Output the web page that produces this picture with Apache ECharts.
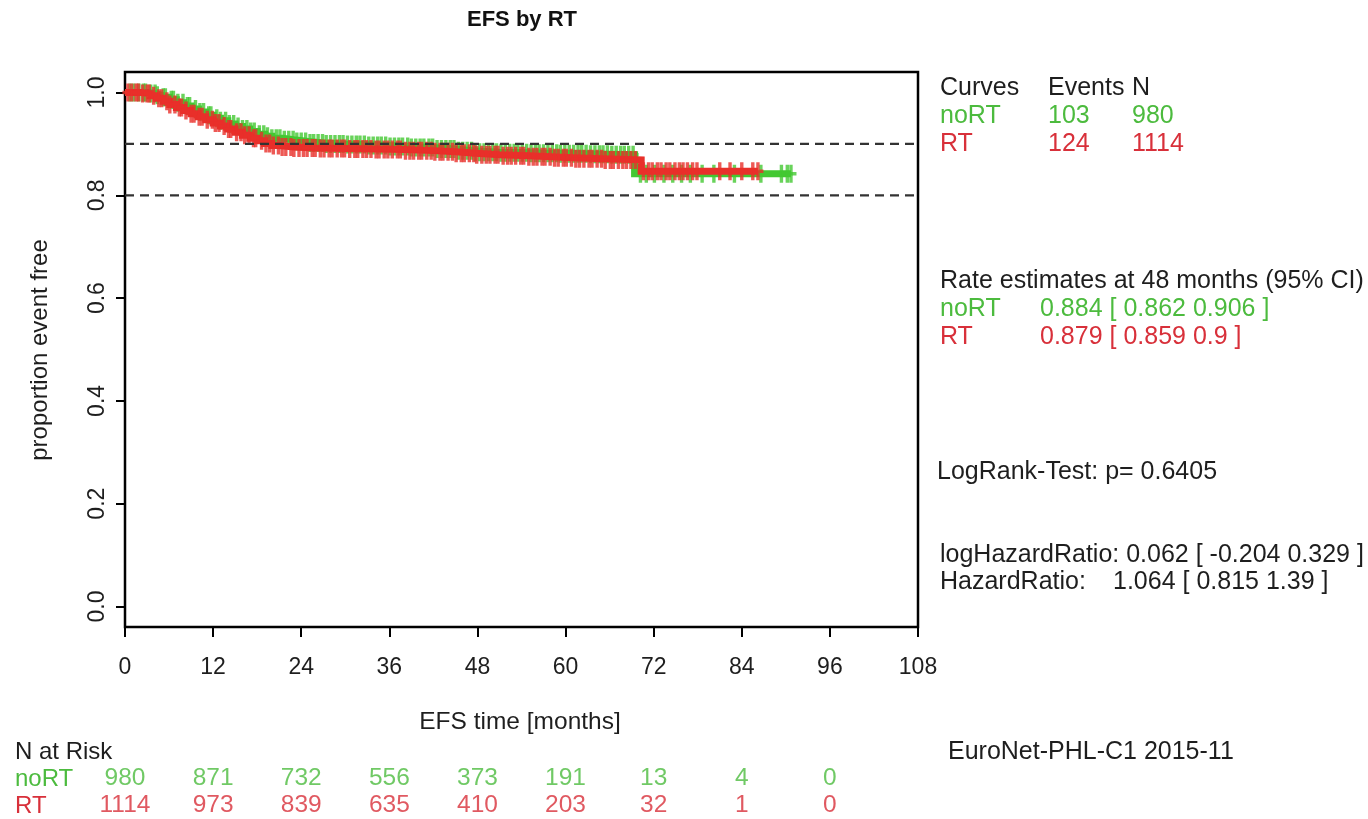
<!DOCTYPE html>
<html>
<head>
<meta charset="utf-8">
<script src="https://cdn.jsdelivr.net/npm/echarts@6/dist/echarts.min.js"></script>
<style>
  html, body { margin: 0; padding: 0; background: #ffffff; }
  #chart { width: 1368px; height: 819px; }
</style>
</head>
<body>
<div id="chart"></div>
<script>
// Kaplan-Meier curves of event-free survival, split by radiotherapy.
const xTicks = [0, 12, 24, 36, 48, 60, 72, 84, 96, 108];
const yTicks = [0, 0.2, 0.4, 0.6, 0.8, 1.0];
const refLevels = [0.9, 0.8];

// step points [month, proportion event free]
const noRTSteps = [[0,1],[3.2,0.998],[4.2,0.995],[5,0.991],[6,0.986],[7,0.980],[8,0.974],[9,0.968],
  [10,0.962],[11,0.956],[12,0.950],[13,0.945],[14,0.939],[15,0.934],[16,0.929],[17,0.924],[18,0.919],
  [19,0.915],[20,0.911],[21.5,0.908],[23,0.905],[25,0.902],[27,0.900],[30,0.899],[33,0.897],[36,0.895],
  [39,0.893],[42,0.890],[45,0.887],[47.5,0.884],[51,0.883],[55,0.882],[59,0.881],[63,0.880],[66,0.879],
  [69.4,0.842],[90.7,0.842]];
const rtSteps = [[0,1],[2.2,0.998],[3.4,0.994],[4.3,0.989],[5.2,0.983],[6.1,0.977],[7,0.971],[8,0.965],
  [9,0.959],[10,0.953],[11,0.947],[12,0.941],[13,0.935],[14,0.929],[15,0.923],[16,0.917],[17,0.911],
  [18,0.906],[19,0.901],[20,0.897],[21,0.894],[23,0.892],[26,0.891],[30,0.890],[34,0.889],[38,0.887],
  [42,0.885],[45,0.882],[47.8,0.879],[51,0.877],[55,0.875],[58,0.873],[61,0.871],[65,0.869],
  [70.3,0.847],[86.2,0.847]];

// censoring times (months)
const noRTCensor = [0.7,1.2,1.9,2.5,2.8,3.5,4.1,4.4,5.2,5.5,6.3,6.6,7.2,7.9,8.5,8.8,9.6,10.2,10.7,11.4,
  11.7,12.5,13.0,13.7,14.2,14.8,15.4,16.0,16.6,17.1,17.6,18.3,18.9,19.4,20.0,20.6,21.1,21.7,22.3,22.9,
  23.4,24.0,24.6,25.2,25.7,26.3,26.9,27.4,28.0,28.6,29.2,29.7,30.3,30.9,31.5,32.0,32.6,33.2,33.8,34.4,
  34.9,35.5,36.1,36.7,37.3,37.8,38.5,39.0,39.6,40.2,40.7,41.4,41.9,42.5,43.1,43.7,44.3,44.8,45.4,46.0,
  46.6,47.2,47.7,48.3,48.9,49.5,50.1,50.6,51.2,51.8,52.4,53.0,53.5,54.1,54.7,55.3,55.9,56.4,57.0,57.6,
  58.2,58.8,59.3,59.9,60.5,61.1,61.7,62.2,62.8,63.4,64.0,64.6,65.1,65.7,66.3,66.9,67.5,68.0,68.6,69.2,
  70.2,71.0,72.1,73.4,74.6,75.8,77.0,78.6,80.2,83.0,86.6,89.4,90.2,90.7];
const rtCensor = [0.4,0.9,1.5,1.8,2.4,3.0,3.3,3.9,4.6,5.0,5.7,6.1,6.8,7.4,7.7,8.3,9.0,9.4,10.1,10.5,
  11.2,11.9,12.3,12.8,13.5,14.1,14.4,15.2,15.8,16.3,16.9,17.5,17.8,18.6,19.2,19.7,20.2,20.9,21.4,21.9,
  22.6,23.0,23.7,24.3,24.8,25.5,25.9,26.6,27.1,27.8,28.2,28.9,29.5,29.9,30.6,31.3,31.7,32.4,32.9,33.5,
  34.2,34.6,35.3,35.8,36.4,37.1,37.5,38.2,38.8,39.3,40.0,40.4,41.1,41.7,42.2,42.9,43.3,44.0,44.6,45.1,
  45.8,46.2,46.9,47.5,47.9,48.6,49.2,49.7,50.4,50.8,51.5,52.1,52.6,53.2,53.9,54.3,55.0,55.6,56.1,56.8,
  57.2,57.9,58.5,59.0,59.7,60.1,60.8,61.4,61.9,62.5,63.2,63.6,64.3,64.9,65.4,66.1,66.5,67.2,67.8,68.3,
  68.9,69.5,70.6,71.3,71.8,72.5,73.0,73.7,74.2,74.9,75.5,76.0,76.6,77.3,77.9,81.0,82.4,84.0,85.5,86.2];

// numbers at risk
const riskTimes = [0, 12, 24, 36, 48, 60, 72, 84, 96];
const noRTRisk = [980, 871, 732, 556, 373, 191, 13, 4, 0];
const rtRisk = [1114, 973, 839, 635, 410, 203, 32, 1, 0];

const FONT = '"Liberation Sans", Arial, sans-serif';
const GREEN = '#43c832', RED = '#e8302a';
const GREEN_TXT = '#4cbb3e', RED_TXT = '#d8303a';
const INK = '#1e1e1e';
// "+" censor mark, drawn as two filled bars
const PLUS = 'path://M3.8,0H7.2V18H3.8Z M0,7.3H11V10.7H0Z';

function survAt(steps, t) {
  let s = steps[0][1];
  for (const p of steps) { if (p[0] <= t) s = p[1]; else break; }
  return s;
}
const marks = (times, steps) => times.map(t => [t, survAt(steps, t)]);

const chart = echarts.init(document.getElementById('chart'));

function txt(x, y, text, color, size) {
  return {
    type: 'text', x: x, y: y,
    style: { text: text, fill: color || INK, font: (size || 25) + 'px ' + FONT, verticalAlign: 'middle', align: 'left' }
  };
}

const graphics = [
  { type: 'text', x: 522, y: 20, style: { text: 'EFS by RT', fill: '#111', font: 'bold 22px ' + FONT, align: 'center', verticalAlign: 'middle' } },
  { type: 'text', x: 40, y: 350, rotation: Math.PI / 2, style: { text: 'proportion event free', fill: INK, font: '24px ' + FONT, align: 'center', verticalAlign: 'middle' } },
  { type: 'text', x: 520, y: 722, style: { text: 'EFS time [months]', fill: INK, font: '24.5px ' + FONT, align: 'center', verticalAlign: 'middle' } },
  txt(940, 88, 'Curves'), txt(1048, 88, 'Events'), txt(1132, 88, 'N'),
  txt(940, 116, 'noRT', GREEN_TXT), txt(1048, 116, '103', GREEN_TXT), txt(1132, 116, '980', GREEN_TXT),
  txt(940, 144, 'RT', RED_TXT), txt(1048, 144, '124', RED_TXT), txt(1132, 144, '1114', RED_TXT),
  txt(940, 281, 'Rate estimates at 48 months (95% CI)'),
  txt(940, 309, 'noRT', GREEN_TXT), txt(1040, 309, '0.884 [ 0.862 0.906 ]', GREEN_TXT),
  txt(940, 337, 'RT', RED_TXT), txt(1040, 337, '0.879 [ 0.859 0.9 ]', RED_TXT),
  txt(937, 472, 'LogRank-Test: p= 0.6405'),
  txt(940, 555, 'logHazardRatio: 0.062 [ -0.204 0.329 ]'),
  txt(940, 582, 'HazardRatio:'), txt(1113, 582, '1.064 [ 0.815 1.39 ]'),
  txt(948, 752, 'EuroNet-PHL-C1 2015-11'),
  txt(15, 752, 'N at Risk', INK, 24),
  txt(15, 779, 'noRT', GREEN_TXT, 24),
  txt(15, 806, 'RT', RED_TXT, 24)
];

const tickStyle = { color: '#000', width: 2 };

chart.setOption({
  animation: false,
  backgroundColor: '#ffffff',
  textStyle: { fontFamily: FONT },
  grid: [
    { left: 125, top: 72, width: 793, height: 555, show: true, borderColor: '#000', borderWidth: 2.5, backgroundColor: 'transparent' },
    { left: 125, top: 765, width: 793, height: 54, show: false }
  ],
  xAxis: [
    {
      gridIndex: 0, type: 'value', min: 0, max: 108, interval: 12,
      axisLine: { show: false, onZero: false },
      axisTick: { show: true, inside: false, length: 10, lineStyle: tickStyle, customValues: xTicks },
      axisLabel: { show: true, fontSize: 23, color: INK, margin: 29, fontFamily: FONT,
        customValues: xTicks },
      splitLine: { show: false }
    },
    { gridIndex: 1, type: 'value', min: 0, max: 108, show: false }
  ],
  yAxis: [
    {
      gridIndex: 0, type: 'value', min: -0.04, max: 1.04,
      axisLine: { show: false, onZero: false },
      axisTick: { show: true, length: 9, lineStyle: tickStyle, customValues: yTicks },
      axisLabel: { show: true, fontSize: 23, color: INK, rotate: 90, margin: 16, fontFamily: FONT,
        customValues: yTicks, formatter: v => v.toFixed(1) },
      splitLine: { show: false }
    },
    { gridIndex: 1, type: 'category', data: ['noRT', 'RT'], inverse: true, show: false }
  ],
  graphic: graphics,
  series: [
    { name: 'noRT', type: 'line', step: 'end', data: noRTSteps, showSymbol: false, symbol: 'none',
      lineStyle: { color: GREEN, width: 7, join: 'miter', cap: 'butt' }, z: 2, silent: true },
    { name: 'noRT censored', type: 'scatter', data: marks(noRTCensor, noRTSteps), symbol: PLUS,
      symbolSize: [11, 18], itemStyle: { color: GREEN }, z: 2, silent: true },
    { name: 'RT', type: 'line', step: 'end', data: rtSteps, showSymbol: false, symbol: 'none',
      lineStyle: { color: RED, width: 7, join: 'miter', cap: 'butt' }, z: 3, silent: true },
    { name: 'RT censored', type: 'scatter', data: marks(rtCensor, rtSteps), symbol: PLUS,
      symbolSize: [11, 18], itemStyle: { color: RED }, z: 3, silent: true },
    ...refLevels.map(v => ({
      type: 'line', data: [[0, v], [108, v]], symbol: 'none', silent: true, z: 5,
      lineStyle: { color: '#333333', width: 2.2, type: [9, 6] }
    })),
    { type: 'scatter', xAxisIndex: 1, yAxisIndex: 1, symbolSize: 0, silent: true,
      data: riskTimes.map((t, i) => [t, 'noRT', noRTRisk[i]]),
      label: { show: true, position: 'inside', formatter: p => String(p.value[2]),
        fontSize: 24.5, color: GREEN_TXT, fontFamily: FONT } },
    { type: 'scatter', xAxisIndex: 1, yAxisIndex: 1, symbolSize: 0, silent: true,
      data: riskTimes.map((t, i) => [t, 'RT', rtRisk[i]]),
      label: { show: true, position: 'inside', formatter: p => String(p.value[2]),
        fontSize: 24.5, color: RED_TXT, fontFamily: FONT } }
  ]
});
</script>
</body>
</html>
